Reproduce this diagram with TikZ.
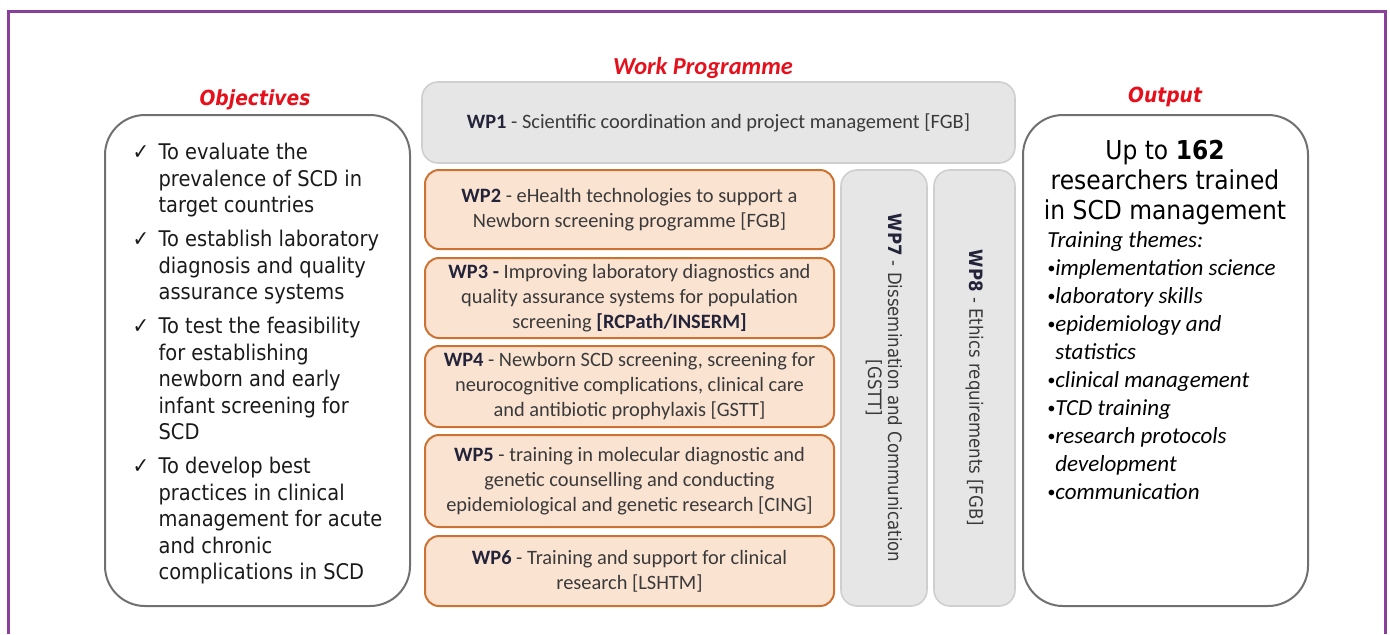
\documentclass[tikz,border=0pt]{standalone}
\usepackage{fontspec}
\setmainfont{Carlito}
\newfontfamily\tahoma[FakeStretch=0.9]{DejaVu Sans}
\usepackage[HTML]{xcolor}
\usepackage{tikz}
\usetikzlibrary{positioning}

\definecolor{framepurple}{HTML}{8B3F9C}
\definecolor{titlered}{HTML}{E5101B}
\definecolor{peachfill}{HTML}{FBE3D2}
\definecolor{peachline}{HTML}{CC7333}
\definecolor{greyfill}{HTML}{E6E6E6}
\definecolor{greyline}{HTML}{CFCFCF}
\definecolor{roundline}{HTML}{707070}
\definecolor{wptext}{HTML}{3A3A3A}
\definecolor{wpbold}{HTML}{23233A}

\newcommand{\wpname}[1]{{\color{wpbold}\bfseries #1}}
\newcommand{\objtick}{\makebox[13pt][l]{\fontsize{11}{11}\selectfont ✓}}
\newcommand{\objind}{\hspace*{13pt}}
\newcommand{\outdot}{\makebox[4pt][l]{\raisebox{0.2ex}{\fontsize{8}{8}\selectfont\textbullet}}}
\newcommand{\outind}{\hspace*{4pt}}

\begin{document}
\begin{tikzpicture}[x=0.5pt, y=-0.5pt,
    wpbox/.style={draw=peachline, fill=peachfill, line width=1pt, rounded corners=7pt,
      minimum width=204.5pt, inner sep=0pt, align=center, text=wptext,
      font=\fontsize{10.2}{12.5}\selectfont},
    greybox/.style={draw=greyline, fill=greyfill, line width=0.8pt, rounded corners=8pt,
      inner sep=0pt, align=center, text=wptext},
    sidebox/.style={draw=roundline, line width=1pt, rounded corners=20pt,
      minimum height=245.5pt, inner sep=0pt},
    heading/.style={text=titlered, font=\tahoma\fontsize{10.4}{12}\selectfont\bfseries\itshape}]

\useasboundingbox (0,0) rectangle (1390,634);

% outer frame, open at the bottom
\draw[framepurple, line width=1.5pt] (8,634) -- (8,11) -- (1385,11) -- (1385,634);

% headings
\node[heading] (objtitle) at (255,100) {Objectives};
\node[heading, font=\fontsize{12.2}{14}\selectfont\bfseries\itshape] (wptitle) at (703,68) {Work Programme};
\node[heading] (outtitle) at (1165,97) {Output};

% objectives column
\node[sidebox, minimum width=152.5pt, align=left, text=black!90,
      font=\tahoma\fontsize{10.8}{13.25}\selectfont] (obj) at (257.5,360.5) {%
  \rule{0pt}{11.5pt}\objtick To evaluate the\\
  \objind prevalence of SCD in\\
  \objind target countries\\[3.75pt]
  \objtick To establish laboratory\\
  \objind diagnosis and quality\\
  \objind assurance systems\\[3.75pt]
  \objtick To test the feasibility\\
  \objind for establishing\\
  \objind newborn and early\\
  \objind infant screening for\\
  \objind SCD\\[3.75pt]
  \objtick To develop best\\
  \objind practices in clinical\\
  \objind management for acute\\
  \objind and chronic\\
  \objind complications in SCD};

% work packages
\node[greybox, minimum width=296.5pt, minimum height=40.5pt,
      font=\fontsize{10.2}{12.5}\selectfont] (wp1) at (718.5,122.5)
  {\wpname{WP1} - Scientific coordination and project management [FGB]};

\node[wpbox, minimum height=39.5pt] (wp2) at (629.5,209.5)
  {\wpname{WP2} - eHealth technologies to support a\\ Newborn screening programme [FGB]};
\node[wpbox, minimum height=40pt] (wp3) at (629.5,298)
  {\wpname{WP3 -} Improving laboratory diagnostics and\\ quality assurance systems for population\\ screening \wpname{[RCPath/INSERM]}};
\node[wpbox, minimum height=40.5pt] (wp4) at (629.5,386.5)
  {\wpname{WP4} - Newborn SCD screening, screening for\\ neurocognitive complications, clinical care\\ and antibiotic prophylaxis [GSTT]};
\node[wpbox, minimum height=46pt] (wp5) at (629.5,481)
  {\wpname{WP5} - training in molecular diagnostic and\\ genetic counselling and conducting\\ epidemiological and genetic research [CING]};
\node[wpbox, minimum height=35pt] (wp6) at (629.5,571)
  {\wpname{WP6} - Training and support for clinical\\ research [LSHTM]};

\node[greybox, rotate=-90, minimum width=218pt, minimum height=43pt,
      font=\tahoma\fontsize{9.2}{10}\selectfont] (wp7) at (884,388)
  {\wpname{WP7} - Dissemination and Communication\\ {[GSTT]}};
\node[greybox, rotate=-90, minimum width=218pt, minimum height=40.5pt,
      font=\tahoma\fontsize{9.2}{10}\selectfont] (wp8) at (974.5,388)
  {\wpname{WP8} - Ethics requirements [FGB]};

% output column
\node[sidebox, minimum width=142.5pt] (out) at (1165.5,360.5) {};
\node[align=center, inner sep=0pt, font=\tahoma\fontsize{13}{15}\selectfont] (outhead) at (1165,183)
  {Up to \textbf{162}\\ researchers trained\\ in SCD management};
\node[align=left, inner sep=0pt, anchor=north west,
      font=\fontsize{11.5}{14}\selectfont\itshape] (outlist) at (1047,231)
  {Training themes:\\
   \outdot implementation science\\
   \outdot laboratory skills\\
   \outdot epidemiology and\\
   \outind statistics\\
   \outdot clinical management\\
   \outdot TCD training\\
   \outdot research protocols\\
   \outind development\\
   \outdot communication};

\end{tikzpicture}
\end{document}
